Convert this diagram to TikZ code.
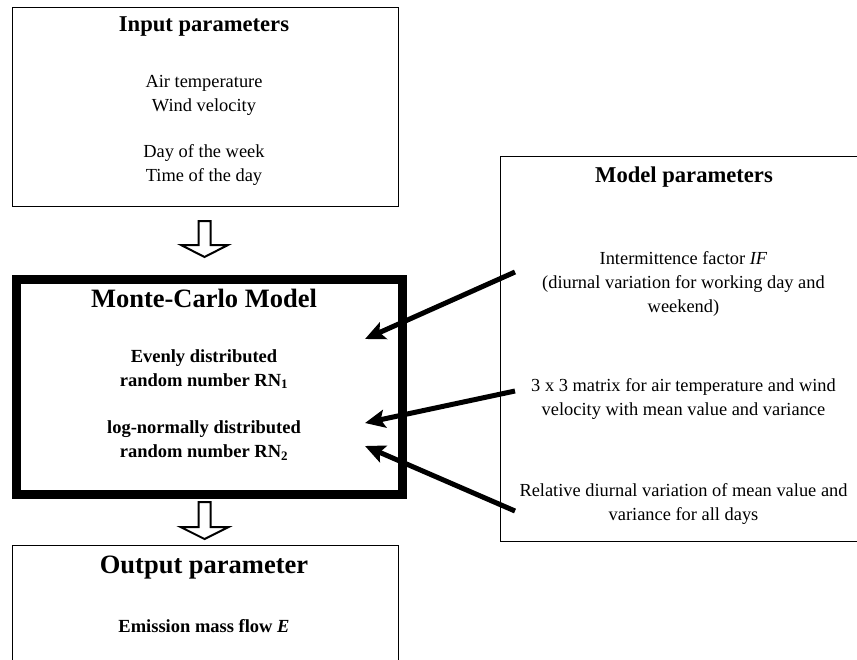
\documentclass[tikz,border=0pt]{standalone}
\usepackage{fontspec}
\setmainfont{Liberation Serif}
\usetikzlibrary{arrows.meta}
\begin{document}
\begin{tikzpicture}[x=1pt,y=-1pt,
  thinbox/.style={draw, line width=1.3pt, inner sep=0pt, anchor=north west},
  thickbox/.style={draw, line width=9pt, inner sep=0pt, anchor=north west},
  txt/.style={align=center, inner sep=0pt, font=\fontsize{18.4}{24}\selectfont},
  btxt/.style={align=center, inner sep=0pt, font=\fontsize{18.5}{24}\selectfont\bfseries},
  ttl/.style={inner sep=0pt, font=\fontsize{22.6}{27}\selectfont\bfseries},
  bigttl/.style={inner sep=0pt, font=\fontsize{26.5}{32}\selectfont\bfseries},
  blockarrow/.style={draw, fill=white, line width=2pt, line join=miter},
  feed/.style={line width=5pt, -{Stealth[length=20pt,width=18pt,inset=4pt]}}]
\useasboundingbox (0,0) rectangle (857,659);
\fill[white] (0,0) rectangle (857,659);

% boxes
\node[thinbox, minimum width=386pt, minimum height=199pt] (input) at (11.6,6.6) {};
\node[thickbox, minimum width=386pt, minimum height=215pt] (mc) at (11.5,274.5) {};
\node[thinbox, minimum width=386pt, minimum height=140pt] (output) at (11.6,544.6) {};
\node[thinbox, minimum width=370pt, minimum height=385pt] (model) at (499.6,155.6) {};

% input texts
\node[ttl] (inT) at (204,27) {Input parameters};
\node[txt] (in1) at (204,95) {Air temperature\\Wind velocity};
\node[txt] (in2) at (204,165) {Day of the week\\Time of the day};

% Monte-Carlo texts
\node[bigttl] (mcT) at (204,298) {Monte-Carlo Model};
\node[btxt] (rn1) at (204,369) {Evenly distributed\\random number RN\textsubscript{1}};
\node[btxt] (rn2) at (204,440.5) {log-normally distributed\\random number RN\textsubscript{2}};

% output texts
\node[bigttl] (outT) at (204,568) {Output parameter};
\node[btxt] (outE) at (204,626) {Emission mass flow \textit{E}};

% model texts
\node[ttl] (mdT) at (684,177) {Model parameters};
\node[txt] (m1) at (683.5,283.5) {Intermittence factor \textit{IF}\\(diurnal variation for working day and\\weekend)};
\node[txt] (m2) at (683.5,399.5) {3 x 3 matrix for air temperature and wind\\velocity with mean value and variance};
\node[txt] (m3) at (683.5,504) {Relative diurnal variation of mean value and\\variance for all days};

% block arrows
\draw[blockarrow] (198.5,221) -- (210.5,221) -- (210.5,245) -- (228,245) -- (204.5,257) -- (181,245) -- (198.5,245) -- cycle;
\draw[blockarrow] (198.5,502) -- (210.5,502) -- (210.5,527) -- (228.5,527) -- (204.5,539) -- (180.5,527) -- (198.5,527) -- cycle;

% feed arrows
\coordinate (fA) at (515,272);
\coordinate (tA) at (365,339);
\coordinate (fB) at (515,391);
\coordinate (tB) at (365,423);
\coordinate (fC) at (515,511);
\coordinate (tC) at (365,446);
\draw[feed] (fA) -- (tA);
\draw[feed] (fB) -- (tB);
\draw[feed] (fC) -- (tC);
\end{tikzpicture}
\end{document}
